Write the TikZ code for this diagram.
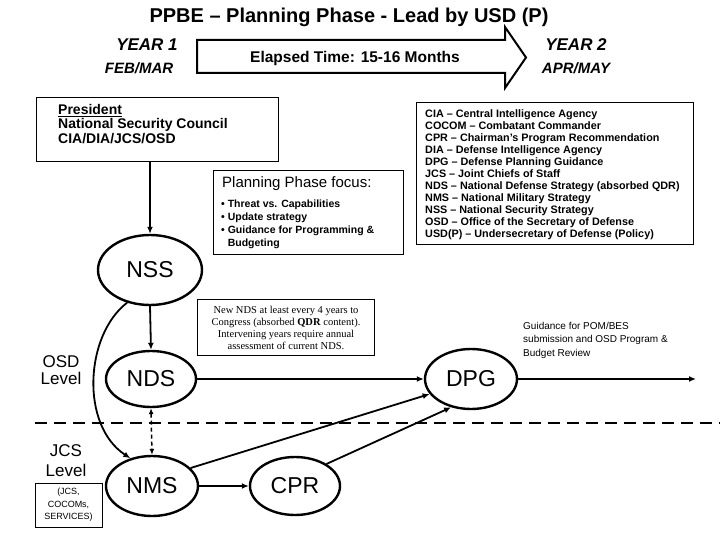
\documentclass[tikz,border=0pt]{standalone}
\usepackage{fontspec}
\setmainfont{Liberation Sans}
\newfontfamily\serifnote{Liberation Serif}
\usetikzlibrary{shapes.geometric,arrows.meta}
\begin{document}
\begin{tikzpicture}[x=1pt,y=-1pt,
  ell/.style={draw, ellipse, line width=2.4pt, inner sep=0pt, font=\fontsize{23}{23}\selectfont},
  boxframe/.style={draw, line width=1pt, inner sep=0pt},
  arr/.style={line width=1.8pt, -{Latex[length=7pt,width=6pt]}},
  txt/.style={inner sep=0pt, align=left},
]
\useasboundingbox (0,0) rectangle (720,540);

% title and time line
\node[font=\fontsize{20}{20}\bfseries\selectfont] (title) at (349,17) {PPBE – Planning Phase - Lead by USD (P)};
\node[font=\fontsize{17}{17}\bfseries\itshape\selectfont] (y1) at (147,45) {YEAR 1};
\node[font=\fontsize{15}{15}\bfseries\itshape\selectfont] (fm) at (139,68) {FEB/MAR};
\node[font=\fontsize{17}{17}\bfseries\itshape\selectfont] (y2) at (576,45) {YEAR 2};
\node[font=\fontsize{15}{15}\bfseries\itshape\selectfont] (am) at (576,68) {APR/MAY};
\draw[line width=2pt, line join=miter] (197,40) -- (505,40) -- (505,27) -- (526,57.5) -- (505,88) -- (505,73) -- (197,73) -- cycle;
\node[font=\fontsize{15.5}{15.5}\bfseries\selectfont] (elapsed) at (355,58) {Elapsed Time: 15-16 Months};

% President box
\node[boxframe, minimum width=242pt, minimum height=64pt] (pres) at (157,130) {};
\node[txt, anchor=west, font=\fontsize{14}{14.5}\bfseries\selectfont] (prestxt) at (58,124) {\underline{President}\\National Security Council\\CIA/DIA/JCS/OSD};

% Planning focus box
\node[boxframe, minimum width=190pt, minimum height=83pt] (plan) at (308,212.5) {};
\node[txt, anchor=west, font=\fontsize{15}{15}\selectfont] (planhead) at (222,184) {Planning Phase focus:};
\node[txt, anchor=west, font=\fontsize{10.5}{13}\bfseries\selectfont] (planlist) at (221,224.5) {• Threat vs. Capabilities\\• Update strategy\\• Guidance for Programming \&\\\hphantom{• }Budgeting};

% legend
\node[boxframe, minimum width=277pt, minimum height=141pt] (legbox) at (554.5,173.5) {};
\node[txt, anchor=west, font=\fontsize{10.8}{12}\bfseries\selectfont] (legtxt) at (425,175) {CIA – Central Intelligence Agency\\
COCOM – Combatant Commander\\
CPR – Chairman's Program Recommendation\\
DIA – Defense Intelligence Agency\\
DPG – Defense Planning Guidance\\
JCS – Joint Chiefs of Staff\\
NDS – National Defense Strategy (absorbed QDR)\\
NMS – National Military Strategy\\
NSS – National Security Strategy\\
OSD – Office of the Secretary of Defense\\
USD(P) – Undersecretary of Defense (Policy)};

% NDS note
\node[boxframe, minimum width=177pt, minimum height=56pt] (notebox) at (285.5,327) {};
\node[inner sep=0pt, align=center, font=\serifnote\fontsize{10.5}{12}\selectfont] (notetxt) at (286,328) {New NDS at least every 4 years to\\Congress (absorbed \textbf{QDR} content).\\Intervening years require annual\\assessment of current NDS.};

% guidance text
\node[txt, anchor=west, font=\fontsize{10}{13.5}\selectfont] (guid) at (523,340) {Guidance for POM/BES\\submission and OSD Program \&\\Budget Review};

% level labels
\node[align=center, inner sep=0pt, font=\fontsize{17}{17}\selectfont] (osd) at (61,370) {OSD\\Level};
\node[align=center, inner sep=0pt, font=\fontsize{17}{20}\selectfont] (jcs) at (66,461) {JCS\\Level};
\node[boxframe, minimum width=67pt, minimum height=44pt, align=center, font=\fontsize{9}{12.5}\selectfont] (jcsbox) at (68.5,505) {(JCS,\\COCOMs,\\SERVICES)};

% dashed separator
\coordinate (dl) at (35,423);
\coordinate (dr) at (720,423);
\draw[line width=2.4pt, dash pattern=on 12pt off 7pt] (dl) -- (dr);

% ellipses
\node[ell, minimum width=104pt, minimum height=70pt] (nss) at (150,270) {NSS};
\node[ell, minimum width=90pt, minimum height=56pt] (nds) at (151,379) {NDS};
\node[ell, minimum width=92pt, minimum height=60pt] (nms) at (152,486) {NMS};
\node[ell, minimum width=90pt, minimum height=58pt] (cpr) at (295,486) {CPR};
\node[ell, minimum width=92pt, minimum height=60pt] (dpg) at (471,379) {DPG};
\coordinate (out) at (696,379);

% connectors
\draw[arr] (pres.south -| nss.north) -- (nss.north);
\draw[arr] (nss.south) -- (nds.north);
\draw[line width=1.5pt, dash pattern=on 4pt off 3pt, {Latex[length=6pt,width=5pt]}-{Latex[length=6pt,width=5pt]}] (nds.south) -- (nms.north);
\draw[arr] (nss.235) .. controls (85,335) and (80,425) .. (nms.128);
\draw[arr] (nds.east) -- (dpg.west);
\draw[arr] (nms.east) -- (cpr.west);
\draw[arr] (nms.25) -- (dpg.200);
\draw[arr] (cpr.35) -- (dpg.235);
\draw[arr] (dpg.east) -- (out);
\end{tikzpicture}
\end{document}
